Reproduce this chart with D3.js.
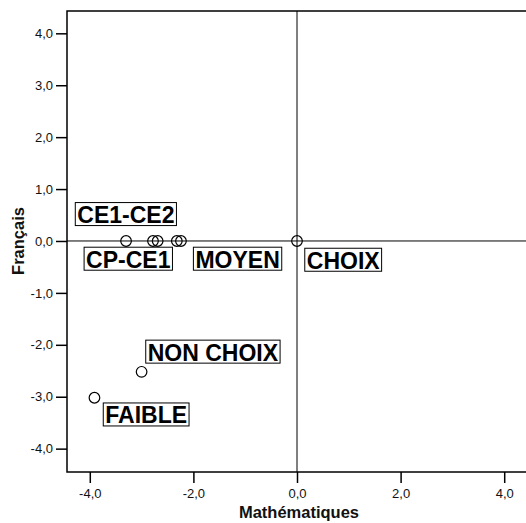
<!DOCTYPE html>
<html lang="fr">
    <head>
        <title>Français / Mathématiques</title>
        <script src="https://cdnjs.cloudflare.com/ajax/libs/d3/7.8.5/d3.min.js"></script>
        <style>
            body { margin: 0; background: #fff; }
            svg { display: block; font-family: Arial, "Liberation Sans", sans-serif; }
        </style>
    </head>
    <body>
        <div class="graph"></div>
        <script>
    // points (Mathématiques, Français)
    const pointX = [-3.30, -2.78, -2.69, -2.32, -2.24, 0.0, -3.0, -3.91];
    const pointY = [0, 0, 0, 0, 0, 0, -2.52, -3.02];
    // labels and where their boxes sit (top-left corner, data units)
    const labelNames = ["CE1-CE2", "CP-CE1", "MOYEN", "CHOIX", "NON CHOIX", "FAIBLE"];
    const labelX = [-4.28, -4.11, -2.0, 0.15, -2.92, -3.74];
    const labelY = [0.74, -0.12, -0.12, -0.14, -1.91, -3.12];
    const ticks = [-4, -2, 0, 2, 4];
    const yTicks = [-4, -3, -2, -1, 0, 1, 2, 3, 4];

    const w = 526;
    const h = 523;
    const padLeft = 67, padRight = 527, padTop = 11, padBottom = 472;

    const fmt = d => d3.format(".1f")(d).replace(".", ",").replace("−", "-");

    const xScale = d3.scaleLinear()
                     .domain([-4.44, 4.44])
                     .range([padLeft, padRight]);
    const yScale = d3.scaleLinear()
                     .domain([-4.45, 4.43])
                     .range([padBottom, padTop]);

    const svg = d3.select(".graph")
                  .append("svg")
                  .attr("width", w)
                  .attr("height", h);

    // frame
    svg.append("rect")
       .attr("x", padLeft)
       .attr("y", padTop)
       .attr("width", padRight - padLeft)
       .attr("height", padBottom - padTop)
       .attr("fill", "none")
       .attr("stroke", "#000")
       .attr("stroke-width", 1.5);

    // reference lines at zero
    svg.append("line")
       .attr("x1", xScale(0)).attr("x2", xScale(0))
       .attr("y1", padTop).attr("y2", padBottom)
       .attr("stroke", "#000").attr("stroke-width", 1);
    svg.append("line")
       .attr("x1", padLeft).attr("x2", padRight)
       .attr("y1", yScale(0)).attr("y2", yScale(0))
       .attr("stroke", "#000").attr("stroke-width", 1);

    const xAxis = d3.axisBottom(xScale)
                    .tickValues(ticks)
                    .tickFormat(fmt)
                    .tickSize(11)
                    .tickPadding(6);
    const gx = svg.append("g")
       .attr("id", "x-axis")
       .attr("transform", "translate(0," + padBottom + ")")
       .call(xAxis);

    const yAxis = d3.axisLeft(yScale)
                    .tickValues(yTicks)
                    .tickFormat(fmt)
                    .tickSize(11)
                    .tickPadding(3);
    const gy = svg.append("g")
       .attr("id", "y-axis")
       .attr("transform", "translate(" + padLeft + ",0)")
       .call(yAxis);

    [gx, gy].forEach(g => {
        g.select(".domain").remove();
        g.selectAll(".tick line").attr("stroke", "#000").attr("stroke-width", 1.5);
        g.selectAll(".tick text")
         .attr("fill", "#111")
         .style("font-size", "13px")
         .style("font-family", "Arial, 'Liberation Sans', sans-serif");
    });

    // axis titles
    svg.append("text")
       .attr("x", xScale(0) + 2)
       .attr("y", 518)
       .attr("text-anchor", "middle")
       .style("font-weight", "bold")
       .style("font-size", "16.5px")
       .attr("fill", "#111")
       .text("Mathématiques");
    svg.append("text")
       .attr("transform", "translate(24," + yScale(0) + ") rotate(-90)")
       .attr("text-anchor", "middle")
       .style("font-weight", "bold")
       .style("font-size", "16.5px")
       .attr("fill", "#111")
       .text("Français");

    // points
    svg.selectAll("circle")
       .data(pointX)
       .enter()
       .append("circle")
       .attr("cx", d => xScale(d))
       .attr("cy", (d, i) => yScale(pointY[i]))
       .attr("r", 5.3)
       .attr("fill", "none")
       .attr("stroke", "#000")
       .attr("stroke-width", 1.2);

    // labels
    const lab = svg.selectAll("g.label")
       .data(labelNames)
       .enter()
       .append("g")
       .attr("class", "label")
       .attr("transform", (d, i) => "translate(" + xScale(labelX[i]) + "," + yScale(labelY[i]) + ")");
    lab.append("text")
       .attr("x", 2)
       .attr("y", 20.5)
       .style("font-weight", "bold")
       .style("font-size", "23px")
       .attr("fill", "#000")
       .text(d => d);
    lab.insert("rect", "text")
       .attr("x", 0)
       .attr("y", 0)
       .attr("width", function () {
            const t = this.parentNode.querySelector("text");
            return t.getComputedTextLength() + 4;
       })
       .attr("height", 23)
       .attr("fill", "#fff")
       .attr("stroke", "#000")
       .attr("stroke-width", 1);
        </script>
    </body>
</html>
